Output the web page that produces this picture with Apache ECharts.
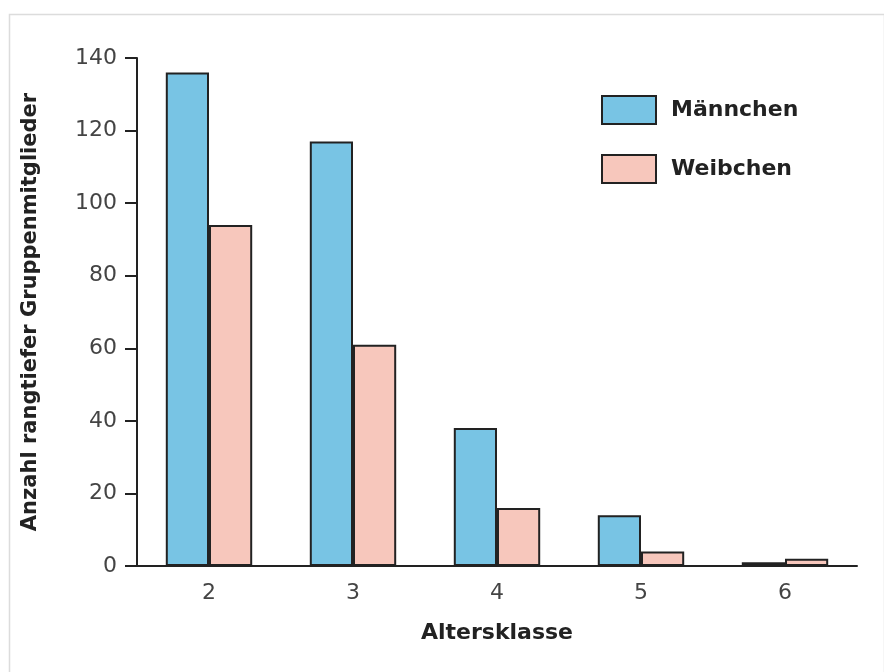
<!DOCTYPE html>
<html>
<head>
<meta charset="utf-8">
<script src="https://cdn.jsdelivr.net/npm/echarts@6/dist/echarts.min.js"></script>
<style>html,body{margin:0;padding:0;background:#fff;}#c{width:884px;height:672px;}</style>
</head>
<body>
<div id="c"></div>
<script>
var categories = ['2', '3', '4', '5', '6'];
var maleValues = [136, 117, 38, 14, 1];
var femaleValues = [94, 61, 16, 4, 2];
var seriesNames = ['Männchen', 'Weibchen'];
var yTicks = [0, 20, 40, 60, 80, 100, 120, 140];

var chart = echarts.init(document.getElementById('c'), null, {renderer: 'canvas'});
var font = 'DejaVu Sans, Liberation Sans, Arial, sans-serif';
chart.setOption({
  backgroundColor: '#fff',
  animation: false,
  graphic: [{
    type: 'rect', left: 7, top: 12,
    shape: {width: 875, height: 700},
    style: {fill: 'none', stroke: '#dcdcdc', lineWidth: 1.5}
  }],
  grid: {left: 137, right: 27, top: 58, bottom: 106},
  legend: {
    orient: 'vertical', left: 601, top: 95, padding: 0,
    itemWidth: 54, itemHeight: 28, itemGap: 29,
    icon: 'rect',
    textStyle: {fontFamily: font, fontWeight: 'bold', fontSize: 22, color: '#222', padding: [0, 0, 0, 10]},
    data: seriesNames
  },
  xAxis: {
    type: 'category', data: categories,
    name: 'Altersklasse', nameLocation: 'middle', nameGap: 56,
    nameTextStyle: {fontFamily: font, fontWeight: 'bold', fontSize: 22, color: '#222'},
    axisLine: {lineStyle: {color: '#222', width: 2}},
    axisTick: {show: false},
    axisLabel: {fontFamily: font, fontSize: 22, color: '#444', margin: 16}
  },
  yAxis: {
    type: 'value', min: 0, max: 140, interval: 20,
    name: 'Anzahl rangtiefer Gruppenmitglieder', nameLocation: 'middle', nameGap: 96,
    nameTextStyle: {fontFamily: font, fontWeight: 'bold', fontSize: 21, color: '#222'},
    axisLine: {show: true, lineStyle: {color: '#222', width: 2}},
    axisTick: {show: true, inside: false, length: 12, lineStyle: {color: '#222', width: 2}},
    axisLabel: {fontFamily: font, fontSize: 22, color: '#444', margin: 20,
      formatter: function (v) { return yTicks.indexOf(v) >= 0 ? String(v) : ''; }},
    splitLine: {show: false}
  },
  series: [{
    name: seriesNames[0], type: 'bar', data: maleValues,
    barGap: '0%', barCategoryGap: '40%',
    itemStyle: {color: '#78c4e4', borderColor: '#222', borderWidth: 2}
  }, {
    name: seriesNames[1], type: 'bar', data: femaleValues,
    barGap: '0%', barCategoryGap: '40%',
    itemStyle: {color: '#f7c7bc', borderColor: '#222', borderWidth: 2}
  }]
});
</script>
</body>
</html>
